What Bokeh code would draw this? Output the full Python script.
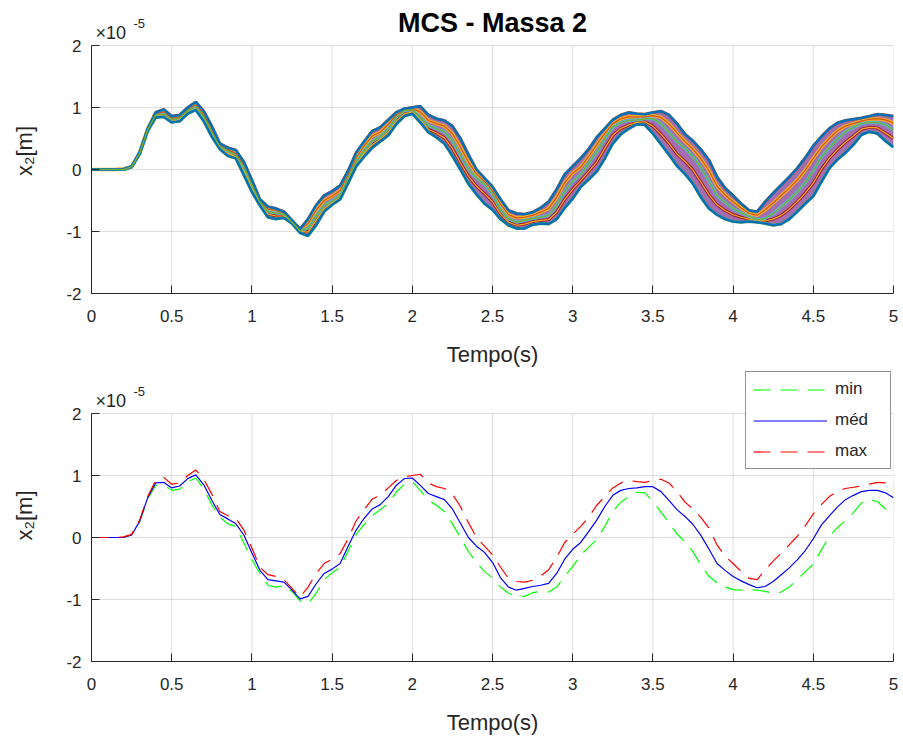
import numpy as np
from bokeh.plotting import figure
from bokeh.layouts import column
from bokeh.models import Label, Legend, LegendItem, FixedTicker
from bokeh.embed import file_html
from bokeh.resources import INLINE

# ---------------- data (x2 in units of 1e-5 m) ----------------
tempo = np.round(np.arange(0, 101) * 0.05, 2)

x2_min = [0, 0, 0, 0, 0, 0.04, 0.25, 0.62, 0.84, 0.85,
          0.76, 0.78, 0.90, 0.96, 0.78, 0.53, 0.33, 0.22, 0.18, -0.09,
          -0.36, -0.58, -0.77, -0.80, -0.78, -0.87, -1.02, -1.07, -0.90, -0.68,
          -0.57, -0.48, -0.22, 0.05, 0.21, 0.35, 0.45, 0.55, 0.73, 0.86,
          0.90, 0.76, 0.60, 0.52, 0.42, 0.22, 0.00, -0.23, -0.40, -0.55,
          -0.65, -0.80, -0.90, -0.95, -0.95, -0.89, -0.87, -0.88, -0.80, -0.62,
          -0.47, -0.28, -0.16, -0.03, 0.18, 0.42, 0.57, 0.66, 0.73, 0.72,
          0.58, 0.41, 0.24, 0.06, -0.07, -0.23, -0.45, -0.63, -0.73, -0.80,
          -0.84, -0.85, -0.84, -0.85, -0.87, -0.90, -0.88, -0.80, -0.68, -0.55,
          -0.43, -0.20, 0.02, 0.16, 0.27, 0.40, 0.56, 0.61, 0.58, 0.46,
          0.36]

x2_q1 = [0, 0, 0, 0, 0, 0.04, 0.25, 0.63, 0.86, 0.87,
         0.78, 0.80, 0.92, 0.98, 0.81, 0.56, 0.35, 0.26, 0.20, -0.03,
         -0.30, -0.55, -0.72, -0.75, -0.75, -0.86, -1.00, -1.01, -0.82, -0.63,
         -0.54, -0.45, -0.18, 0.08, 0.26, 0.40, 0.49, 0.60, 0.78, 0.90,
         0.93, 0.80, 0.65, 0.59, 0.51, 0.34, 0.11, -0.11, -0.27, -0.39,
         -0.52, -0.72, -0.85, -0.90, -0.88, -0.84, -0.82, -0.81, -0.69, -0.48,
         -0.32, -0.18, -0.03, 0.12, 0.34, 0.55, 0.66, 0.72, 0.76, 0.77,
         0.70, 0.57, 0.42, 0.25, 0.13, -0.01, -0.21, -0.41, -0.57, -0.66,
         -0.73, -0.77, -0.80, -0.83, -0.83, -0.80, -0.74, -0.64, -0.52, -0.38,
         -0.22, 0.00, 0.18, 0.32, 0.44, 0.54, 0.65, 0.68, 0.67, 0.59,
         0.50]

x2_med = [0, 0, 0, 0, 0, 0.04, 0.26, 0.64, 0.88, 0.89,
          0.80, 0.83, 0.95, 1.01, 0.85, 0.60, 0.37, 0.30, 0.22, 0.04,
          -0.25, -0.53, -0.68, -0.70, -0.72, -0.85, -0.99, -0.95, -0.75, -0.58,
          -0.51, -0.42, -0.14, 0.12, 0.31, 0.46, 0.53, 0.66, 0.84, 0.95,
          0.96, 0.84, 0.71, 0.66, 0.61, 0.46, 0.23, 0.00, -0.14, -0.24,
          -0.40, -0.65, -0.80, -0.85, -0.82, -0.79, -0.77, -0.74, -0.58, -0.35,
          -0.19, -0.08, 0.10, 0.28, 0.50, 0.68, 0.76, 0.79, 0.80, 0.82,
          0.82, 0.74, 0.60, 0.45, 0.34, 0.21, 0.03, -0.19, -0.42, -0.53,
          -0.63, -0.70, -0.76, -0.81, -0.79, -0.71, -0.60, -0.49, -0.36, -0.21,
          -0.02, 0.20, 0.35, 0.49, 0.61, 0.68, 0.74, 0.76, 0.76, 0.72,
          0.64]

x2_q3 = [0, 0, 0, 0, 0.01, 0.04, 0.27, 0.65, 0.90, 0.93,
         0.83, 0.85, 0.97, 1.05, 0.89, 0.65, 0.39, 0.32, 0.26, 0.08,
         -0.21, -0.50, -0.64, -0.66, -0.70, -0.83, -0.97, -0.87, -0.66, -0.50,
         -0.43, -0.34, -0.08, 0.19, 0.38, 0.54, 0.60, 0.73, 0.88, 0.96,
         0.98, 0.93, 0.79, 0.74, 0.70, 0.58, 0.36, 0.12, -0.07, -0.19,
         -0.34, -0.56, -0.73, -0.78, -0.77, -0.74, -0.69, -0.63, -0.45, -0.21,
         -0.06, 0.04, 0.21, 0.40, 0.58, 0.74, 0.82, 0.85, 0.85, 0.85,
         0.87, 0.84, 0.74, 0.59, 0.45, 0.33, 0.17, -0.02, -0.27, -0.41,
         -0.52, -0.62, -0.71, -0.74, -0.65, -0.54, -0.42, -0.30, -0.17, -0.01,
         0.18, 0.36, 0.50, 0.62, 0.70, 0.74, 0.78, 0.81, 0.82, 0.80,
         0.75]

x2_max = [0, 0, 0, 0, 0.01, 0.05, 0.28, 0.66, 0.92, 0.97,
          0.86, 0.88, 1.00, 1.09, 0.94, 0.70, 0.42, 0.35, 0.31, 0.12,
          -0.17, -0.48, -0.60, -0.63, -0.68, -0.82, -0.96, -0.80, -0.58, -0.42,
          -0.35, -0.26, -0.02, 0.27, 0.45, 0.62, 0.68, 0.80, 0.92, 0.98,
          1.00, 1.02, 0.88, 0.82, 0.79, 0.70, 0.50, 0.24, 0.00, -0.14,
          -0.28, -0.48, -0.66, -0.71, -0.72, -0.69, -0.62, -0.52, -0.32, -0.08,
          0.05, 0.18, 0.33, 0.52, 0.66, 0.80, 0.88, 0.92, 0.90, 0.89,
          0.92, 0.94, 0.88, 0.74, 0.57, 0.46, 0.32, 0.15, -0.12, -0.30,
          -0.42, -0.55, -0.66, -0.68, -0.52, -0.38, -0.25, -0.12, 0.02, 0.19,
          0.38, 0.53, 0.66, 0.75, 0.79, 0.81, 0.83, 0.86, 0.89, 0.88,
          0.86]

x_ticks = [0, 0.5, 1, 1.5, 2, 2.5, 3, 3.5, 4, 4.5, 5]
x_tick_labels = ["0", "0.5", "1", "1.5", "2", "2.5", "3", "3.5", "4", "4.5", "5"]
y_ticks = [-2, -1, 0, 1, 2]
y_tick_labels = ["-2", "-1", "0", "1", "2"]

legend_labels = ["min", "méd", "max"]
mc_colors = ["#0072BD", "#D95319", "#EDB120", "#7E2F8E", "#77AC30", "#4DBEEE", "#A2142F"]

FONT = "Liberation Sans"
DARK = "#262626"
PX_PER_UNIT = 62.0   # vertical scale of the axes (248 px for 4 units)


def make_fig(height, extra_top, border_top, border_bottom):
    """Axes whose frame reaches extra_top px above y=2 (for texts drawn there)."""
    y_top = y_ticks[-1] + extra_top / PX_PER_UNIT
    p = figure(width=901, height=height, frame_width=802, frame_height=248 + extra_top,
               x_range=(x_ticks[0], x_ticks[-1]), y_range=(y_ticks[0], y_top),
               output_backend="svg", toolbar_location=None, tools="",
               min_border_left=91, min_border_right=8,
               min_border_top=border_top, min_border_bottom=border_bottom)
    p.outline_line_color = None
    p.background_fill_color = "white"
    p.border_fill_color = "white"
    p.xaxis.ticker = FixedTicker(ticks=x_ticks)
    p.yaxis.ticker = FixedTicker(ticks=y_ticks)
    p.yaxis.bounds = (y_ticks[0], y_ticks[-1])
    p.xaxis.major_label_overrides = {float(t): l for t, l in zip(x_ticks, x_tick_labels)}
    p.yaxis.major_label_overrides = {float(t): l for t, l in zip(y_ticks, y_tick_labels)}
    for ax in (p.xaxis[0], p.yaxis[0]):
        ax.axis_line_color = DARK
        ax.axis_line_width = 1
        ax.major_tick_line_color = DARK
        ax.major_tick_in = 8
        ax.major_tick_out = 0
        ax.minor_tick_line_color = None
        ax.major_label_text_font = FONT
        ax.major_label_text_font_size = "17px"
        ax.major_label_text_color = DARK
        ax.axis_label_text_font = FONT
        ax.axis_label_text_font_size = "22px"
        ax.axis_label_text_font_style = "normal"
        ax.axis_label_text_color = DARK
    p.xaxis.axis_label = "Tempo(s)"
    p.yaxis.axis_label = "x₂[m]"
    p.xaxis.major_label_standoff = 16
    p.yaxis.major_label_standoff = 10
    p.xaxis.axis_label_standoff = 17
    p.yaxis.axis_label_standoff = 26
    # grid: horizontal lines from the y grid, vertical lines limited to [-2, 2]
    p.xgrid.visible = False
    p.ygrid.grid_line_color = "#000000"
    p.ygrid.grid_line_alpha = 0.13
    n = len(x_ticks)
    p.segment(x0=x_ticks, y0=[y_ticks[0]] * n, x1=x_ticks, y1=[y_ticks[-1]] * n,
              line_color="#000000", line_alpha=0.13, line_width=1)
    # x10^-5 multiplier
    p.add_layout(Label(x=x_ticks[0], y=y_ticks[-1], x_offset=4, y_offset=13, text="×10",
                       text_font=FONT, text_font_size="18px", text_color=DARK,
                       text_baseline="alphabetic"))
    p.add_layout(Label(x=x_ticks[0], y=y_ticks[-1], x_offset=42, y_offset=22, text="-5",
                       text_font=FONT, text_font_size="13px", text_color=DARK,
                       text_baseline="alphabetic"))
    return p


# ---------------- top panel: Monte Carlo curves ----------------
p1 = make_fig(368, 37, 8, 75)
p1.add_layout(Label(x=(x_ticks[0] + x_ticks[-1]) / 2, y=y_ticks[-1], y_offset=23,
                    text="MCS - Massa 2", text_align="center", text_baseline="alphabetic",
                    text_font=FONT, text_font_size="27px", text_font_style="bold",
                    text_color="#000000"))
curves = [x2_min, x2_q1, x2_med, x2_q3, x2_max]
env_lo = np.minimum.reduce([np.array(c) for c in curves])
env_hi = np.maximum.reduce([np.array(c) for c in curves])
p1.varea(x=tempo, y1=env_lo, y2=env_hi, fill_color=mc_colors[3], fill_alpha=0.7)
for c, col, w in [(x2_max, mc_colors[1], 3.0), (x2_q3, mc_colors[2], 3.5),
                  (x2_q1, mc_colors[6], 3.0), (x2_min, mc_colors[4], 3.0),
                  (x2_med, mc_colors[5], 3.0)]:
    p1.line(tempo, c, line_color=col, line_width=w)
p1.line(tempo, x2_q3, line_color=mc_colors[1], line_width=1.2)
p1.line(tempo, x2_q1, line_color=mc_colors[2], line_width=1.2)
p1.line(tempo, env_lo, line_color=mc_colors[0], line_width=2.5)
p1.line(tempo, env_hi, line_color=mc_colors[0], line_width=2.5)
p1.line(tempo, x2_med, line_color=mc_colors[4], line_width=1.5)

# ---------------- bottom panel: min / med / max ----------------
p2 = make_fig(366, 44, 0, 74)
r_min = p2.line(tempo, x2_min, line_color="#00FF00", line_width=1.2, line_dash="17 10")
r_med = p2.line(tempo, x2_med, line_color="#0000FF", line_width=1.2)
r_max = p2.line(tempo, x2_max, line_color="#FF0000", line_width=1.2, line_dash="17 10")

legend = Legend(items=[LegendItem(label=legend_labels[0], renderers=[r_min]),
                       LegendItem(label=legend_labels[1], renderers=[r_med]),
                       LegendItem(label=legend_labels[2], renderers=[r_max])],
                location="top_right")
legend.border_line_color = DARK
legend.border_line_width = 1
legend.background_fill_color = "white"
legend.background_fill_alpha = 1.0
legend.label_text_font = FONT
legend.label_text_font_size = "17px"
legend.label_text_color = DARK
legend.glyph_width = 74
legend.glyph_height = 19
legend.label_height = 19
legend.label_width = 48
legend.spacing = 11
legend.padding = 7
legend.margin = 2
legend.label_standoff = 8
p2.add_layout(legend)

layout = column(p1, p2, spacing=0)
open("out.html", "w").write(file_html(layout, INLINE))
